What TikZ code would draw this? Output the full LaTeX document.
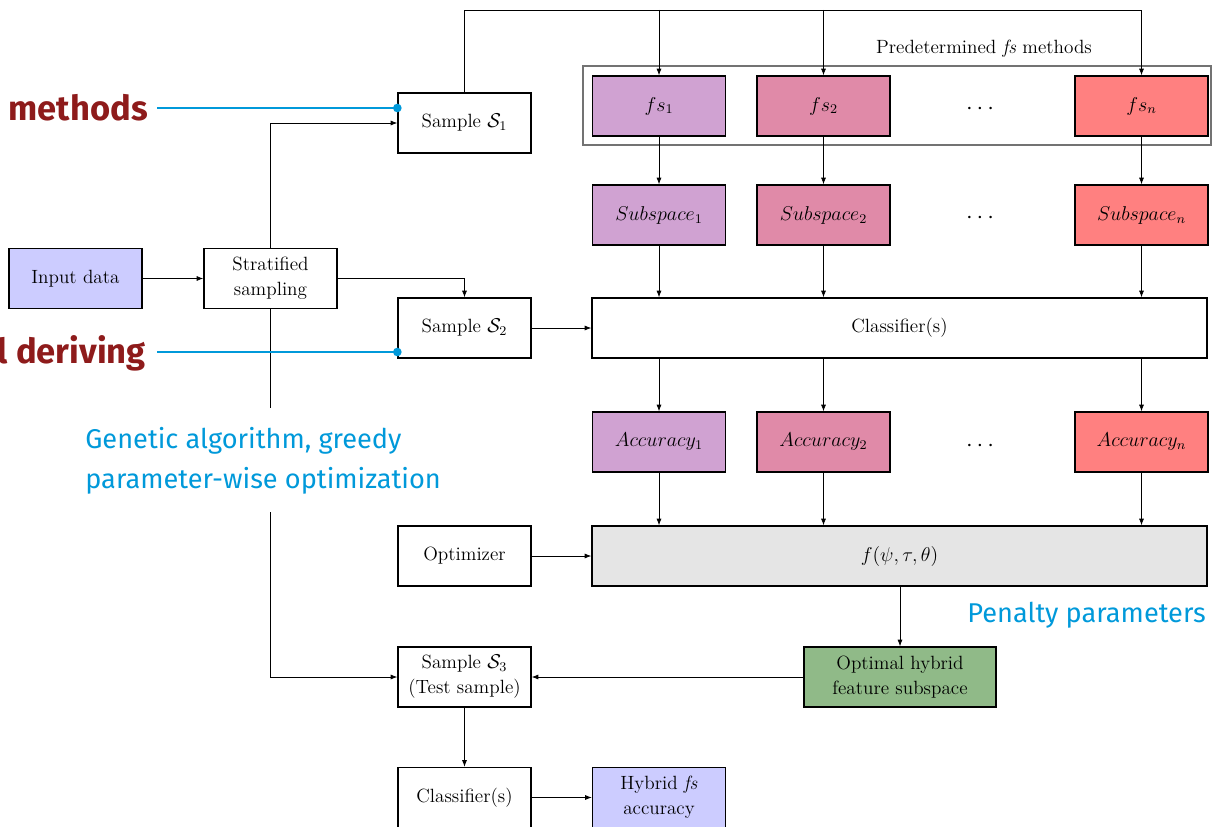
\documentclass[tikz,border=0pt]{standalone}
\usepackage{fontspec}
\usetikzlibrary{arrows.meta,calc}
\newfontfamily\annfont{Fira Sans}
\definecolor{cA}{HTML}{D0A2D2}
\definecolor{cB}{HTML}{E08AA8}
\definecolor{cC}{HTML}{FF8080}
\definecolor{cLav}{HTML}{CCCCFF}
\definecolor{cGreen}{HTML}{90BA88}
\definecolor{cGray}{HTML}{E5E5E5}
\definecolor{annblue}{HTML}{0099DA}
\definecolor{annred}{HTML}{8E1B1B}
\tikzset{
  box/.style={draw, line width=0.8pt, minimum width=79.8pt, minimum height=36pt, align=center, inner sep=2pt, font=\fontsize{11.5}{15}\selectfont},
  arr/.style={-{Latex[length=4pt,width=3pt]}, line width=0.45pt},
  plain/.style={line width=0.45pt},
  annline/.style={draw=annblue, line width=1.3pt},
  anntext/.style={text=annblue, font=\annfont\fontsize{16.3}{24}\selectfont, inner sep=0pt, align=left},
  redtext/.style={text=annred, font=\annfont\bfseries\fontsize{20.7}{24}\selectfont, inner sep=0pt},
  dotsnode/.style={font=\Large, inner sep=0pt}
}
\begin{document}
\begin{tikzpicture}[x=0.6pt,y=-0.6pt]
\useasboundingbox (0,0) rectangle (1212,827);
% group box
\draw[draw=black!55, line width=0.7pt] (583,66) rectangle (1211,145);
\node[font=\fontsize{11.5}{14}\selectfont, inner sep=0pt] (predlab) at (984,49) {Predetermined \textit{fs} methods};
% left column
\node[box, fill=cLav] (in) at (75.5,278.5) {Input data};
\node[box] (strat) at (270.5,278.5) {Stratified\\sampling};
\node[box] (s1) at (464.5,123) {Sample $\mathcal{S}_1$};
\node[box] (s2) at (464.5,328) {Sample $\mathcal{S}_2$};
\node[box] (optz) at (464.5,556) {Optimizer};
\node[box] (s3) at (464.5,677) {Sample $\mathcal{S}_3$\\(Test sample)};
\node[box] (cls2) at (464.5,797.5) {Classifier(s)};
\node[box, fill=cLav] (hyb) at (659,797.5) {Hybrid \textit{fs}\\accuracy};
% fs row
\node[box, fill=cA] (fs1) at (659,106) {$fs_1$};
\node[box, fill=cB] (fs2) at (823.5,106) {$fs_2$};
\node[box, fill=cC] (fsn) at (1141.5,106) {$fs_n$};
\node[dotsnode] (d1) at (980,109) {$\cdots$};
% subspace row
\node[box, fill=cA] (sub1) at (659,215) {$Subspace_1$};
\node[box, fill=cB] (sub2) at (823.5,215) {$Subspace_2$};
\node[box, fill=cC] (subn) at (1141.5,215) {$Subspace_n$};
\node[dotsnode] (d2) at (980,218) {$\cdots$};
% classifier
\node[box, minimum width=369pt] (cls) at (899.5,328) {Classifier(s)};
% accuracy row
\node[box, fill=cA] (acc1) at (659,442) {$Accuracy_1$};
\node[box, fill=cB] (acc2) at (823.5,442) {$Accuracy_2$};
\node[box, fill=cC] (accn) at (1141.5,442) {$Accuracy_n$};
\node[dotsnode] (d3) at (980,446) {$\cdots$};
% objective
\node[box, fill=cGray, minimum width=369pt] (fobj) at (899.5,556) {$f(\psi,\tau,\theta)$};
\node[box, fill=cGreen, minimum width=115.2pt] (opt) at (900,677) {Optimal hybrid\\feature subspace};
% connectors
\coordinate (ytop) at (0,10);
\draw[arr] (in) -- (strat);
\draw[arr] (strat.north) |- (s1);
\draw[arr] (strat.east) -| (s2.north);
\draw[arr] (s1.north) -- (s1.north |- ytop) -| (fsn.north);
\draw[arr] (fs1.north |- ytop) -- (fs1.north);
\draw[arr] (fs2.north |- ytop) -- (fs2.north);
\draw[arr] (fs1) -- (sub1);
\draw[arr] (fs2) -- (sub2);
\draw[arr] (fsn) -- (subn);
\draw[arr] (sub1) -- (sub1 |- cls.north);
\draw[arr] (sub2) -- (sub2 |- cls.north);
\draw[arr] (subn) -- (subn |- cls.north);
\draw[arr] (s2) -- (cls);
\draw[arr] (cls.south -| acc1) -- (acc1);
\draw[arr] (cls.south -| acc2) -- (acc2);
\draw[arr] (cls.south -| accn) -- (accn);
\draw[arr] (acc1) -- (acc1 |- fobj.north);
\draw[arr] (acc2) -- (acc2 |- fobj.north);
\draw[arr] (accn) -- (accn |- fobj.north);
\draw[arr] (optz) -- (fobj);
\draw[arr] (fobj.south -| opt) -- (opt);
\draw[arr] (opt) -- (s3);
\draw[arr] (s3) -- (cls2);
\draw[arr] (cls2) -- (hyb);
\coordinate (g1) at (270.5,408);
\coordinate (g2) at (270.5,512);
\draw[plain] (strat.south) -- (g1);
\draw[arr] (g2) |- (s3);
% annotations
\coordinate (m1) at (157,108);
\coordinate (m2) at (157,352);
\draw[annline] (m1) -- (s1.west |- m1);
\fill[annblue] (s1.west |- m1) circle (2.6pt);
\draw[annline] (m2) -- (s2.west |- m2);
\fill[annblue] (s2.west |- m2) circle (2.6pt);
\node[redtext, anchor=base east] (tm) at (148,120) {methods};
\node[redtext, anchor=base east] (td) at (146,363) {l deriving};
\node[anntext, anchor=base west] (tg) at (85,488) {Genetic algorithm, greedy\\parameter-wise optimization};
\node[anntext, anchor=base west] (tp) at (967,622) {Penalty parameters};
\end{tikzpicture}
\end{document}
